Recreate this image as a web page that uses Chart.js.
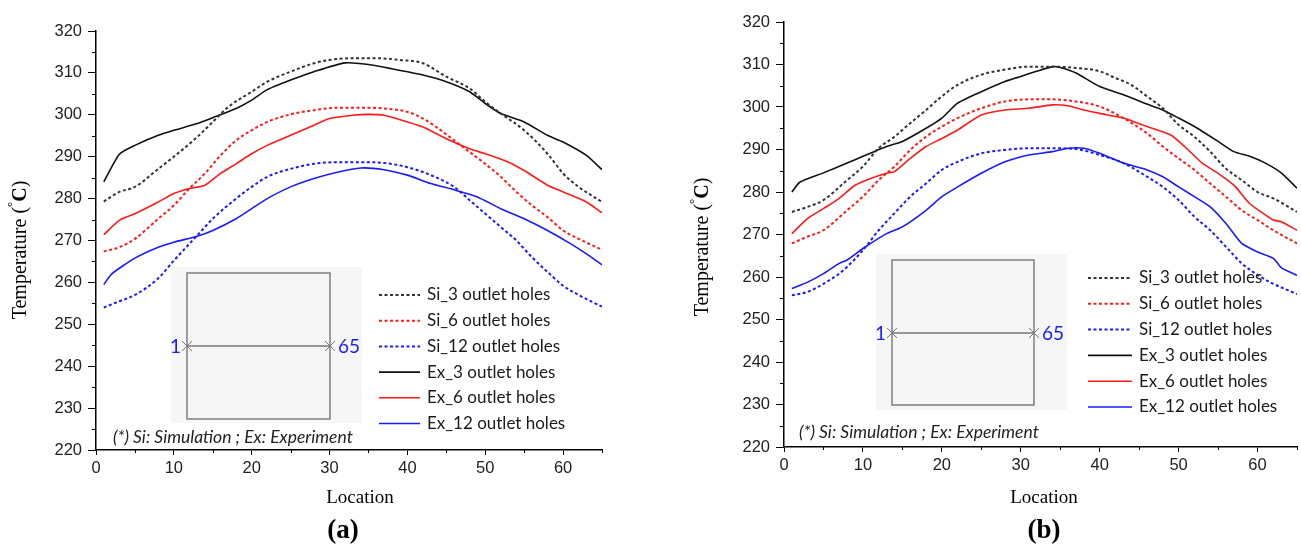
<!DOCTYPE html>
<html>
<head>
<meta charset="utf-8">
<script src="https://cdn.jsdelivr.net/npm/chart.js@4.4.1/dist/chart.umd.min.js"></script>
<style>
  html, body { margin: 0; padding: 0; background: #fff; }
  #wrap { position: relative; width: 1301px; height: 547px; }
  #wrap canvas { position: absolute; left: 0; top: 0; }
</style>
</head>
<body>
<div id="wrap">
  <canvas id="chartA" width="1301" height="547"></canvas>
  <canvas id="chartB" width="1301" height="547"></canvas>
</div>
<script>
// series names (legend order)
var seriesNames = ['Si_3 outlet holes', 'Si_6 outlet holes', 'Si_12 outlet holes',
                   'Ex_3 outlet holes', 'Ex_6 outlet holes', 'Ex_12 outlet holes'];
var yTicks = [220, 320, 10];   // min, max, step
var xTicks = [0, 65, 10];
var noteText = '(*) Si: Simulation ; Ex: Experiment';

// ---- panel (a) ----
var aSi3Loc = [1,3,5,8,10,13,15,17,20,22,25,28,30,33,36,39,42,45,48,50,52,55,58,60,62,65];
var aSi3 = [279.3,281.6,282.8,287.1,290,294.7,298.3,301.9,305.5,307.9,310.3,312.3,313.1,313.5,313.5,313.1,312.3,309.1,306.3,303.1,300.3,296.3,290.7,286,282.8,279.2];
var aSi6Loc = [1,3,5,8,10,12,14,16,18,20,22,25,28,31,34,37,40,42,44,46,48,50,52,54,56,58,60,62,65];
var aSi6 = [267.4,268.4,270.4,275.2,278.4,282.4,286,290.3,293.9,296.3,298.3,300.1,301.1,301.7,301.7,301.5,300.7,299.1,296.7,293.9,291.1,288.3,285.2,281.6,278.4,275.6,272.4,270.4,267.8];
var aSi12Loc = [1,3,5,8,10,13,15,18,20,22,25,28,31,34,37,40,43,46,48,50,52,54,56,58,60,62,65];
var aSi12 = [254,255.5,257,261,265.2,271.2,275.2,280,282.8,285.2,287.1,288.3,288.7,288.7,288.5,287.5,285.6,282.8,279.6,276.4,273.2,270,266,262.5,259.2,257,254.2];
var aEx3Loc = [1,3,5,8,10,13,15,18,20,22,25,28,32,35,38,42,45,48,50,52,55,58,60,63,65];
var aEx3 = [284,290.6,292.7,295.1,296.3,297.9,299.3,301.5,303.5,306,308.3,310.3,312.4,312,311,309.5,307.9,305.5,302.7,300.3,298.3,295.1,293.5,290.3,286.9];
var aEx6Loc = [1,3,5,8,10,12,14,16,18,20,22,25,28,30,33,35,37,40,42,45,48,50,53,55,58,60,63,65];
var aEx6 = [271.4,274.8,276.4,279.2,281.2,282.4,283.2,286,288.3,290.7,292.7,295.1,297.5,299.1,299.9,300.1,299.9,298.3,297.1,294.3,291.9,290.7,288.7,286.7,283.2,281.6,279.2,276.6];
var aEx12Loc = [1,2,5,8,10,13,15,18,20,22,25,28,31,34,37,40,43,46,49,52,55,58,61,63,65];
var aEx12 = [259.5,262,265.8,268.4,269.6,271,272.4,275.2,277.6,280,282.8,284.8,286.3,287.3,286.9,285.6,283.6,282.1,280.4,277.6,275.2,272.4,269.2,266.8,264.2];

// ---- panel (b) ----
var bSi3Loc = [1,3,5,8,10,12,14,16,18,20,22,25,28,31,34,37,40,42,44,46,48,50,52,54,56,58,60,62,65];
var bSi3 = [275.3,276.5,278.1,282.8,286,290.3,293,296.2,299.3,302.5,305.2,307.6,308.8,309.5,309.5,309.2,308.4,306.8,305.2,302.5,299.7,295.8,293,289.5,285.5,282.8,280,278.5,275.3];
var bSi6Loc = [1,3,5,8,10,12,14,16,18,20,22,25,28,31,34,37,40,43,46,48,50,52,54,56,58,60,62,65];
var bSi6 = [267.9,269.5,271,275.7,278.9,282.8,286,289.9,293,295.4,297.4,299.7,301.3,301.8,301.8,301.3,300.1,297.4,293.8,290.7,287.9,285.2,282,278.9,275.7,273.4,271,267.9];
var bSi12Loc = [1,3,5,7,8,10,12,14,16,18,20,22,25,28,31,34,37,40,43,46,48,50,52,54,56,58,60,62,65];
var bSi12 = [255.7,256.5,258.4,260.8,262.4,266.3,271,275,278.9,282,285.2,287.1,289.1,289.9,290.3,290.3,290.1,288.7,286.8,283.6,281.2,278.1,274.2,271,267.1,263.2,260.5,258.4,256];
var bEx3Loc = [1,2,5,8,10,13,15,18,20,22,25,28,30,32,34,35,37,40,43,46,48,50,52,55,57,59,61,63,65];
var bEx3 = [280,282.3,284.5,286.8,288.4,290.7,291.9,295,297.4,300.9,303.6,306,307.2,308.4,309.5,309.3,308,304.8,302.9,300.7,299.3,297.4,295.4,291.9,289.5,288.4,286.8,284.5,280.9];
var bEx6Loc = [1,3,5,7,9,11,13,14,16,18,20,22,25,28,31,34,36,38,40,43,46,49,51,53,55,57,59,61,62,63,65];
var bEx6 = [270.2,273.8,276.1,278.5,281.6,283.2,284.4,284.8,287.9,290.7,292.6,294.6,298.1,299.3,299.7,300.5,300.3,299.3,298.5,297.4,295.4,293.4,290.3,286.8,284.4,281.6,277.3,274.6,273.4,273,271];
var bEx12Loc = [1,3,5,7,8,10,13,15,18,20,22,25,28,31,34,36,38,40,43,46,48,50,52,54,56,58,60,62,63,65];
var bEx12 = [257.3,258.8,260.8,263.2,264,266.7,270.2,271.8,275.7,278.9,281.2,284.4,287.1,288.7,289.5,290.3,290.3,289.1,286.8,285.2,283.6,281.2,278.9,276.5,272.6,267.9,265.9,264.4,262.2,260.4];

var COL_BLACK = '#111111', COL_RED = '#ff1a1a', COL_BLUE = '#1a1aff';
var SERIF = '"Liberation Serif", "DejaVu Serif", serif';
var SANS = 'Lato, "Open Sans", sans-serif';

function pts(loc, val) {
  return loc.map(function (x, i) { return { x: x, y: val[i] }; });
}

function makeDatasets(p) {
  var dot = { borderWidth: 2, borderDash: [3, 2.5], tension: 0.3, cubicInterpolationMode: 'monotone' };
  var solid = { borderWidth: 1.6, tension: 0.2 };
  var sets = [
    [p.si3, '#333333', dot], [p.si6, COL_RED, dot], [p.si12, COL_BLUE, dot],
    [p.ex3, COL_BLACK, solid], [p.ex6, COL_RED, solid], [p.ex12, COL_BLUE, solid]
  ];
  return sets.map(function (s, i) {
    var d = { label: seriesNames[i], data: s[0], borderColor: s[1], pointRadius: 0, fill: false };
    Object.keys(s[2]).forEach(function (k) { d[k] = s[2][k]; });
    return d;
  });
}

// rotated "Temperature (°C)" with raised degree sign and bold C
function drawYTitle(ctx, cx, cy) {
  var parts = [
    ['Temperature (', '20px ' + SERIF, 0],
    ['°', '13px ' + SERIF, -8],
    ['C', 'bold 20px ' + SERIF, 0],
    [')', '20px ' + SERIF, 0]
  ];
  var total = 0;
  parts.forEach(function (p) { ctx.font = p[1]; p.push(ctx.measureText(p[0]).width); total += p[3]; });
  ctx.save();
  ctx.translate(cx, cy);
  ctx.rotate(-Math.PI / 2);
  ctx.fillStyle = '#000';
  ctx.textAlign = 'left';
  ctx.textBaseline = 'middle';
  var x = -total / 2;
  parts.forEach(function (p) { ctx.font = p[1]; ctx.fillText(p[0], x, p[2]); x += p[3]; });
  ctx.restore();
}

// inset sketch, legend, note and captions
var extrasPlugin = {
  id: 'extras',
  beforeDatasetsDraw: function (chart) {
    var ex = chart.options.plugins.extras, ctx = chart.ctx;
    var bg = ex.insetBg, bx = ex.insetBox;
    ctx.save();
    ctx.fillStyle = '#f6f6f6';
    ctx.fillRect(bg[0], bg[1], bg[2] - bg[0], bg[3] - bg[1]);
    ctx.strokeStyle = '#777';
    ctx.lineWidth = 1.4;
    ctx.strokeRect(bx[0], bx[1], bx[2] - bx[0], bx[3] - bx[1]);
    ctx.beginPath();
    ctx.moveTo(bx[0], ex.insetLineY);
    ctx.lineTo(bx[2], ex.insetLineY);
    ctx.stroke();
    ctx.lineWidth = 1;
    [bx[0], bx[2]].forEach(function (cx) {
      ctx.beginPath();
      ctx.moveTo(cx - 5, ex.insetLineY - 5); ctx.lineTo(cx + 5, ex.insetLineY + 5);
      ctx.moveTo(cx - 5, ex.insetLineY + 5); ctx.lineTo(cx + 5, ex.insetLineY - 5);
      ctx.stroke();
    });
    ctx.fillStyle = COL_BLUE;
    ctx.font = '19px ' + SANS;
    ctx.textBaseline = 'middle';
    ctx.textAlign = 'right';
    ctx.fillText('1', bx[0] - 6, ex.insetLineY + 1);
    ctx.textAlign = 'left';
    ctx.fillText('65', bx[2] + 8, ex.insetLineY + 1);
    ctx.restore();
  },
  afterDraw: function (chart) {
    var ex = chart.options.plugins.extras, ctx = chart.ctx;
    var xs = chart.scales.x, ys = chart.scales.y;
    ctx.save();
    // minor ticks
    ctx.strokeStyle = '#000';
    ctx.lineWidth = 1;
    for (var v = 225; v < 320; v += 10) {
      var py = Math.round(ys.getPixelForValue(v)) + 0.5;
      ctx.beginPath(); ctx.moveTo(xs.left - 4, py); ctx.lineTo(xs.left, py); ctx.stroke();
    }
    for (var u = 5; u <= 65; u += 10) {
      var px = Math.round(xs.getPixelForValue(u)) + 0.5;
      ctx.beginPath(); ctx.moveTo(px, ys.bottom); ctx.lineTo(px, ys.bottom + 3); ctx.stroke();
    }
    // legend
    var lg = ex.legend;
    ctx.font = '17px ' + SANS;
    ctx.textBaseline = 'middle';
    ctx.textAlign = 'left';
    chart.data.datasets.forEach(function (d, i) {
      var y = lg.y + i * lg.dy;
      ctx.strokeStyle = d.borderColor;
      ctx.lineWidth = d.borderWidth;
      ctx.setLineDash(d.borderDash || []);
      ctx.beginPath(); ctx.moveTo(lg.x0, y); ctx.lineTo(lg.x1, y); ctx.stroke();
      ctx.setLineDash([]);
      ctx.fillStyle = '#1a1a1a';
      ctx.fillText(d.label, lg.tx, y);
    });
    // footnote
    ctx.font = 'italic 17.5px ' + SANS;
    ctx.fillStyle = '#222';
    ctx.fillText(noteText, ex.note[0], ex.note[1]);
    // axis captions and panel tag
    drawYTitle(ctx, ex.yTitle[0], ex.yTitle[1]);
    ctx.textAlign = 'center';
    ctx.textBaseline = 'middle';
    ctx.fillStyle = '#000';
    ctx.font = '19px ' + SERIF;
    ctx.fillText('Location', ex.xTitle[0], ex.xTitle[1]);
    ctx.font = 'bold 27px ' + SERIF;
    ctx.fillText(ex.tag[0], ex.tag[1], ex.tag[2]);
    ctx.restore();
  }
};

function makeChart(id, p, lay, ex) {
  var tickFont = { family: '"Liberation Sans", Arial, sans-serif', size: 16.5 };
  return new Chart(document.getElementById(id), {
    type: 'line',
    data: { datasets: makeDatasets(p) },
    plugins: [extrasPlugin],
    options: {
      responsive: false,
      animation: false,
      layout: { padding: { top: lay.top, right: lay.right, left: 0, bottom: 0 } },
      plugins: { legend: { display: false }, tooltip: { enabled: false }, extras: ex },
      scales: {
        x: {
          type: 'linear', min: xTicks[0], max: xTicks[1],
          afterFit: function (s) { s.height = lay.xh; },
          border: { display: true, color: '#000', width: 1.5 },
          grid: { drawOnChartArea: false, color: '#000', tickLength: 5 },
          ticks: { stepSize: xTicks[2], includeBounds: false, autoSkip: false, maxRotation: 0,
                   color: '#222', font: tickFont, padding: 4 }
        },
        y: {
          min: yTicks[0], max: yTicks[1],
          afterFit: function (s) { s.width = lay.yw; },
          border: { display: true, color: '#000', width: 1.5 },
          grid: { drawOnChartArea: false, color: '#000', tickLength: 8 },
          ticks: { stepSize: yTicks[2], color: '#222', font: tickFont, padding: lay.tickPad }
        }
      }
    }
  });
}

makeChart('chartA',
  { si3: pts(aSi3Loc, aSi3), si6: pts(aSi6Loc, aSi6), si12: pts(aSi12Loc, aSi12),
    ex3: pts(aEx3Loc, aEx3), ex6: pts(aEx6Loc, aEx6), ex12: pts(aEx12Loc, aEx12) },
  { top: 31, right: 699, xh: 97, yw: 96, tickPad: 6 },
  { insetBg: [171, 267, 362, 423], insetBox: [187, 273, 330, 419], insetLineY: 346,
    legend: { x0: 379, x1: 420, tx: 427, y: 295, dy: 25.7 },
    note: [113, 437], yTitle: [21, 250], xTitle: [360, 498], tag: ['(a)', 343, 531] });

makeChart('chartB',
  { si3: pts(bSi3Loc, bSi3), si6: pts(bSi6Loc, bSi6), si12: pts(bSi12Loc, bSi12),
    ex3: pts(bEx3Loc, bEx3), ex6: pts(bEx6Loc, bEx6), ex12: pts(bEx12Loc, bEx12) },
  { top: 22, right: 4, xh: 100, yw: 784, tickPad: 6 },
  { insetBg: [876, 254, 1067, 410], insetBox: [892, 260, 1034, 405], insetLineY: 333,
    legend: { x0: 1088, x1: 1132, tx: 1139, y: 278, dy: 25.8 },
    note: [799, 432], yTitle: [703, 247], xTitle: [1044, 498], tag: ['(b)', 1044, 531] });
</script>
</body>
</html>
